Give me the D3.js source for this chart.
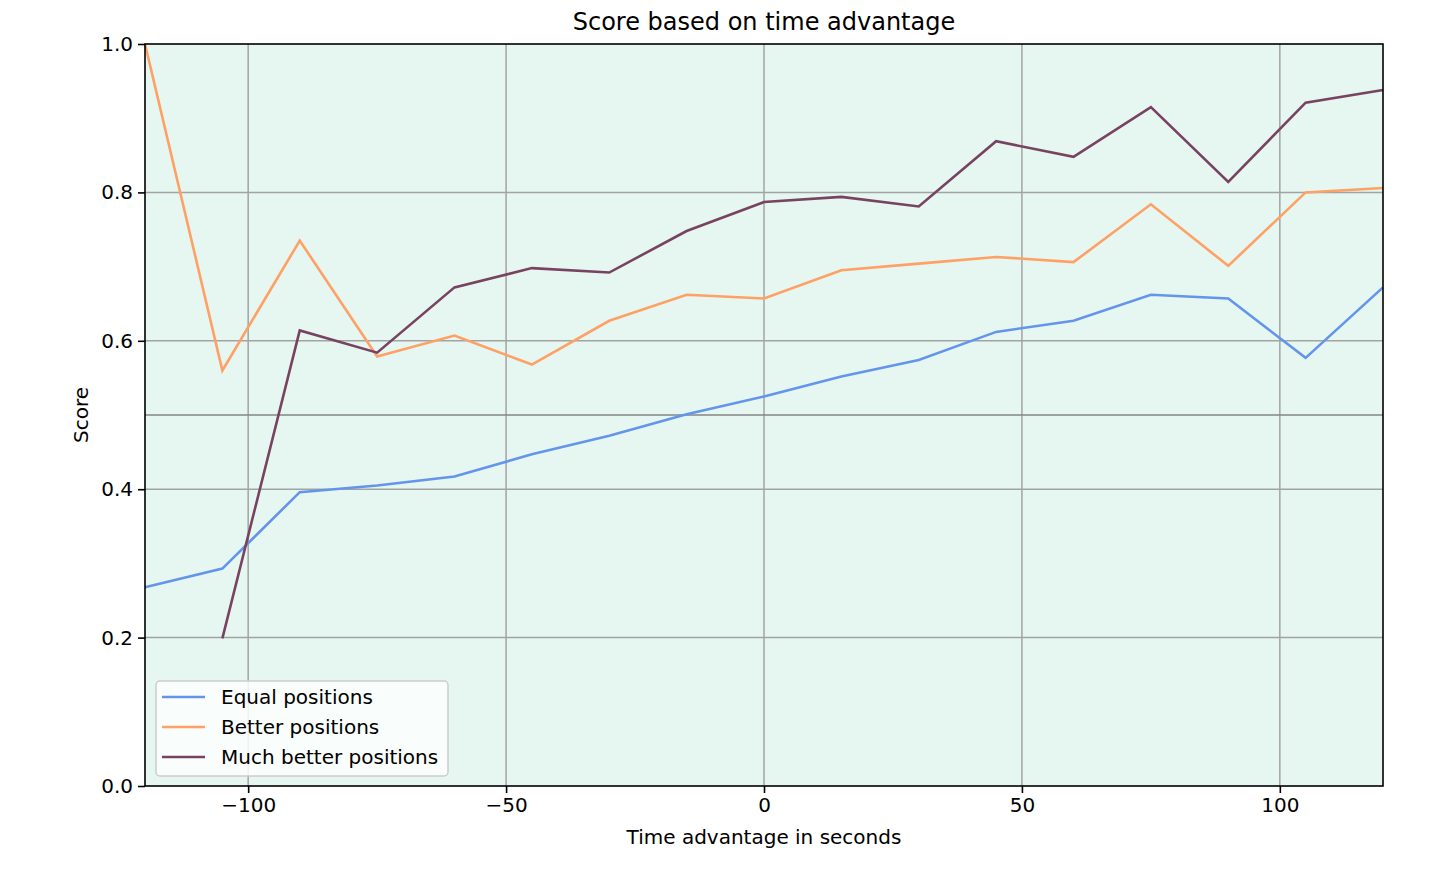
<!DOCTYPE html>
<html>
<head>
<meta charset="utf-8">
<script src="https://cdn.jsdelivr.net/npm/d3@7"></script>
<style>
  body { margin: 0; background: #fff; }
  svg text { font-family: "DejaVu Sans", sans-serif; fill: #000; }
</style>
</head>
<body>
<div id="chart"></div>
<script>
const margin = { top: 44, right: 73, bottom: 88, left: 145 };
const width = 1456 - margin.left - margin.right;
const height = 874 - margin.top - margin.bottom;

// time advantage in seconds
const times = [-120, -105, -90, -75, -60, -45, -30, -15, 0, 15, 30, 45, 60, 75, 90, 105, 120];
const equalScores = [0.268, 0.293, 0.396, 0.405, 0.417, 0.447, 0.472, 0.501, 0.525, 0.552, 0.574, 0.612, 0.627, 0.662, 0.657, 0.577, 0.672];
const betterScores = [1.0, 0.560, 0.735, 0.579, 0.607, 0.568, 0.627, 0.662, 0.657, 0.695, 0.704, 0.713, 0.706, 0.784, 0.701, 0.800, 0.806];
const muchBetterScores = [null, 0.199, 0.614, 0.584, 0.672, 0.698, 0.692, 0.748, 0.787, 0.794, 0.781, 0.869, 0.848, 0.915, 0.814, 0.921, 0.938];
const xTicks = [-100, -50, 0, 50, 100];
const yTicks = [0, 0.2, 0.4, 0.6, 0.8, 1.0];

const series = [
  { label: "Equal positions", color: "#6495ed", values: equalScores },
  { label: "Better positions", color: "#ffa064", values: betterScores },
  { label: "Much better positions", color: "#784361", values: muchBetterScores }
];

const svg = d3.select("#chart")
  .append("svg")
    .attr("width", width + margin.left + margin.right)
    .attr("height", height + margin.top + margin.bottom)
  .append("g")
    .attr("transform", `translate(${margin.left}, ${margin.top})`);

const x = d3.scaleLinear().domain([-120, 120]).range([0, width]);
const y = d3.scaleLinear().domain([0, 1]).range([height, 0]);

// background
svg.append("rect")
  .attr("width", width)
  .attr("height", height)
  .attr("fill", "#e6f6f0");

// grid
svg.append("g")
  .selectAll("line")
  .data(xTicks)
  .join("line")
    .attr("x1", d => x(d)).attr("x2", d => x(d))
    .attr("y1", 0).attr("y2", height)
    .attr("stroke", "#a3a3a3")
    .attr("stroke-width", 1.5);

svg.append("g")
  .selectAll("line")
  .data(yTicks.slice(1, -1))
  .join("line")
    .attr("x1", 0).attr("x2", width)
    .attr("y1", d => y(d)).attr("y2", d => y(d))
    .attr("stroke", "#a3a3a3")
    .attr("stroke-width", 1.5);

// reference line at 0.5
svg.append("line")
  .attr("x1", 0).attr("x2", width)
  .attr("y1", y(0.5)).attr("y2", y(0.5))
  .attr("stroke", "#858585")
  .attr("stroke-width", 1.5);

// lines
const line = d3.line()
  .defined(d => d[1] != null)
  .x(d => x(d[0]))
  .y(d => y(d[1]));

svg.append("g")
  .selectAll("path")
  .data(series)
  .join("path")
    .attr("fill", "none")
    .attr("stroke", d => d.color)
    .attr("stroke-width", 2.6)
    .attr("stroke-linejoin", "miter")
    .attr("d", d => line(times.map((t, i) => [t, d.values[i]])));

// frame
svg.append("rect")
  .attr("width", width)
  .attr("height", height)
  .attr("fill", "none")
  .attr("stroke", "#000")
  .attr("stroke-width", 1.6);

// axes
const xAxis = svg.append("g")
  .attr("transform", `translate(0, ${height})`)
  .call(d3.axisBottom(x).tickValues(xTicks).tickSize(7).tickPadding(5)
    .tickFormat(d => d3.format("d")(d).replace("-", "\u2212")));
const yAxis = svg.append("g")
  .call(d3.axisLeft(y).tickValues(yTicks).tickSize(7).tickPadding(5).tickFormat(d3.format(".1f")));

[xAxis, yAxis].forEach(a => {
  a.select(".domain").remove();
  a.selectAll(".tick line").attr("stroke", "#000").attr("stroke-width", 1.6);
  a.selectAll(".tick text").attr("font-size", "20px").attr("font-family", "DejaVu Sans");
});

// title and labels
svg.append("text")
  .attr("x", width / 2)
  .attr("y", -14)
  .attr("text-anchor", "middle")
  .attr("font-size", "24px")
  .text("Score based on time advantage");

svg.append("text")
  .attr("x", width / 2)
  .attr("y", height + 58)
  .attr("text-anchor", "middle")
  .attr("font-size", "20px")
  .text("Time advantage in seconds");

svg.append("text")
  .attr("transform", `translate(${-57}, ${height / 2}) rotate(-90)`)
  .attr("text-anchor", "middle")
  .attr("font-size", "20px")
  .text("Score");

// legend
const legend = svg.append("g")
  .attr("transform", `translate(11, ${height - 105})`);

legend.append("rect")
  .attr("width", 292)
  .attr("height", 95)
  .attr("rx", 4)
  .attr("fill", "#fbfefd")
  .attr("fill-opacity", 0.85)
  .attr("stroke", "#cccccc")
  .attr("stroke-width", 1.5);

legend.selectAll("line")
  .data(series)
  .join("line")
    .attr("x1", 6).attr("x2", 49)
    .attr("y1", (d, i) => 16 + i * 30)
    .attr("y2", (d, i) => 16 + i * 30)
    .attr("stroke", d => d.color)
    .attr("stroke-width", 2.6);

legend.selectAll("text")
  .data(series)
  .join("text")
    .attr("x", 65)
    .attr("y", (d, i) => 16 + i * 30)
    .attr("dy", "0.36em")
    .attr("font-size", "20px")
    .text(d => d.label);
</script>
</body>
</html>
